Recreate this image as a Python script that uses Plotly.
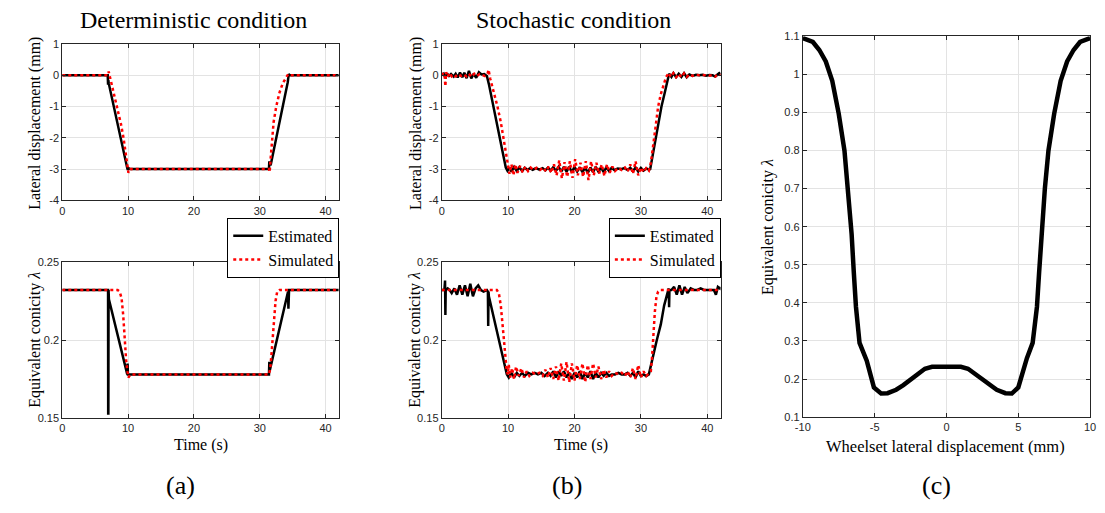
import plotly.graph_objects as go

W, H = 1105, 513

# ---------------- data ----------------
# (a) deterministic, lateral displacement
det_lat_est_t = [0, 6.9, 6.95, 7.0, 7.05, 9.87, 9.95, 10.05, 10.3, 31.4, 31.45, 31.55, 31.65, 34.25, 34.3, 34.4, 34.55, 42]
det_lat_est_y = [0, 0, -0.3, -0.15, -0.25, -2.97, -3.03, -2.97, -3.0, -3.0, -2.75, -2.85, -2.88, -0.22, -0.12, 0.04, 0, 0]
det_lat_sim_t = [0, 6.9, 7.05, 7.3, 7.8, 8.37, 8.9, 9.3, 9.65, 9.9, 10.05, 10.2, 10.4, 31.4, 31.5, 31.6, 31.84, 32.1, 32.5, 33.0, 33.5, 34.0, 34.3, 34.5, 42]
det_lat_sim_y = [0, 0, 0.12, -0.1, -0.55, -1.0, -1.55, -2.0, -2.5, -2.9, -3.12, -3.05, -3.0, -3.0, -3.1, -2.8, -2.0, -1.5, -1.0, -0.55, -0.25, -0.05, 0.03, 0, 0]

# (a) deterministic, equivalent conicity
det_con_est_t = [0, 6.95, 6.97, 7.0, 7.03, 7.08, 9.87, 9.92, 9.97, 10.1, 31.4, 31.45, 31.5, 31.6, 34.3, 34.35, 34.4, 34.45, 42]
det_con_est_y = [0.232, 0.232, 0.153, 0.153, 0.232, 0.226, 0.178, 0.185, 0.178, 0.178, 0.178, 0.186, 0.180, 0.182, 0.231, 0.220, 0.232, 0.232, 0.232]
det_con_sim_t = [0, 8.4, 8.7, 9.0, 9.25, 9.47, 9.7, 9.9, 10.05, 10.2, 10.4, 31.4, 31.6, 31.8, 32.0, 32.2, 32.4, 32.65, 33.0, 42]
det_con_sim_y = [0.232, 0.232, 0.231, 0.227, 0.216, 0.200, 0.187, 0.180, 0.176, 0.177, 0.178, 0.178, 0.182, 0.192, 0.203, 0.215, 0.225, 0.231, 0.232, 0.232]

# (b) stochastic, lateral displacement
sto_lat_est_t = [0, 0.3, 0.55, 0.8, 1.1, 1.4, 1.8, 2.1, 2.4, 2.75, 3.1, 3.4, 3.75, 4.1, 4.45, 4.8, 5.2, 5.6, 6.0, 6.4, 6.8, 7.0, 7.1,
                 9.65, 9.9, 10.2, 10.5, 10.9, 11.3, 11.7, 12.1, 12.5, 12.9, 13.3, 13.7, 14.2, 14.7, 15.2, 15.6, 16.0, 16.4, 16.8,
                 17.2, 17.6, 18.0, 18.4, 18.8, 19.2, 19.6, 20.0, 20.4, 20.8, 21.2, 21.6, 22.0, 22.4, 22.8, 23.2, 23.6, 24.0, 24.4,
                 24.8, 25.2, 25.6, 26.0, 26.5, 27.0, 27.5, 28.0, 28.4, 28.8, 29.2, 29.6, 30.0, 30.4, 30.8, 31.2, 31.4, 31.6, 32.0,
                 32.2, 32.6, 33.1, 33.6, 34.0, 34.25, 34.6, 34.9, 35.3, 35.7, 36.1, 36.5, 36.9, 37.3, 37.8, 38.3, 38.8, 39.3, 39.8,
                 40.3, 40.8, 41.2, 41.5, 41.8, 42]
sto_lat_est_y = [0.0, 0.05, -0.08, 0.06, -0.02, 0.04, -0.04, 0.05, -0.07, 0.09, -0.06, 0.08, -0.09, 0.14, -0.1, 0.05, -0.08, 0.1, 0.03, 0.04, -0.02, -0.15, -0.28,
                 -2.95, -3.05, -2.95, -3.08, -2.93, -3.06, -2.94, -3.06, -2.96, -3.03, -2.97, -3.02, -2.97, -3.02, -2.97, -3.04, -2.95, -3.05, -2.94,
                 -3.06, -2.93, -3.08, -2.93, -3.08, -2.93, -3.1, -2.93, -3.08, -2.94, -3.1, -2.95, -3.12, -2.95, -3.1, -2.93, -3.08, -2.95, -3.1,
                 -2.94, -3.06, -2.96, -3.03, -2.98, -3.0, -2.97, -3.03, -2.96, -3.07, -2.95, -3.08, -2.96, -3.05, -2.98, -3.02, -3.0, -2.75, -2.35,
                 -2.0, -1.5, -1.0, -0.55, -0.2, 0.05, -0.05, 0.07, -0.06, 0.05, -0.05, 0.07, -0.06, 0.03, -0.02, 0.02, 0.0, 0.02, -0.01,
                 0.01, 0.0, -0.04, 0.02, 0.07, 0.03]
sto_lat_sim_t = [0, 0.25, 0.45, 0.55, 0.65, 0.9, 1.2, 1.5, 1.8, 2.1, 2.5, 2.9, 3.3, 3.7, 4.1, 4.5, 4.9, 5.3, 5.7, 6.1, 6.5, 6.9, 7.05,
                 7.3, 7.8, 8.4, 8.9, 9.3, 9.7, 10.0, 10.2, 10.5, 10.8, 11.1, 11.4, 11.8, 12.2, 12.6, 13.0, 13.4, 13.8, 14.3, 14.8,
                 15.3, 15.7, 16.1, 16.5, 16.9, 17.3, 17.7, 18.1, 18.5, 18.9, 19.3, 19.7, 20.1, 20.5, 20.9, 21.3, 21.7, 22.1, 22.5,
                 22.9, 23.3, 23.7, 24.1, 24.5, 24.9, 25.3, 25.7, 26.1, 26.6, 27.1, 27.6, 28.0, 28.4, 28.8, 29.2, 29.6, 30.0, 30.4,
                 30.8, 31.2, 31.5, 31.8, 32.0, 32.3, 32.6, 33.0, 33.4, 33.8, 34.2, 34.5, 34.9, 35.3, 35.7, 36.1, 36.5, 36.9, 37.3,
                 37.8, 38.3, 38.8, 39.3, 39.8, 40.3, 40.8, 41.2, 41.5, 41.8, 42]
sto_lat_sim_y = [0.0, 0.08, -0.05, -0.35, 0.1, -0.05, 0.08, -0.03, 0.02, -0.03, 0.04, -0.02, 0.03, -0.03, 0.05, -0.05, 0.05, -0.02, 0.04, 0.0, -0.02, 0.05, 0.18,
                 -0.1, -0.5, -1.0, -1.5, -2.0, -2.6, -2.95, -3.15, -2.85, -3.2, -2.85, -3.12, -2.9, -3.1, -2.92, -3.06, -2.95, -3.03, -2.96, -3.03,
                 -2.95, -3.08, -2.92, -3.12, -2.85, -3.2, -2.72, -3.3, -2.78, -3.25, -2.75, -3.28, -2.68, -3.2, -2.8, -3.25, -2.75, -3.35, -2.75,
                 -3.2, -2.8, -3.15, -2.85, -3.22, -2.85, -3.12, -2.92, -3.06, -2.96, -3.03, -2.95, -3.08, -2.85, -3.15, -2.75, -3.2, -2.95, -3.1,
                 -2.97, -3.05, -2.8, -2.4, -2.0, -1.5, -1.0, -0.6, -0.3, -0.05, 0.08, -0.05, 0.07, -0.06, 0.05, -0.06, 0.06, -0.05, 0.03,
                 -0.02, 0.02, 0.0, 0.01, 0.0, 0.01, -0.01, -0.04, 0.02, 0.04, 0.0]

# (b) stochastic, equivalent conicity
sto_con_est_t = [0, 0.4, 0.5, 0.55, 0.6, 0.9, 1.2, 1.5, 1.9, 2.3, 2.7, 3.1, 3.5, 3.9, 4.3, 4.7, 5.1, 5.5, 5.9, 6.3, 6.8, 6.95, 7.0, 7.05, 7.1,
                 9.8, 10.1, 10.5, 10.9, 11.3, 11.7, 12.1, 12.5, 13.0, 13.5, 14.0, 14.5, 15.0, 15.5, 16.0, 16.4, 16.8, 17.2, 17.6, 18.0,
                 18.4, 18.8, 19.2, 19.6, 20.0, 20.4, 20.8, 21.2, 21.6, 22.0, 22.4, 22.8, 23.2, 23.6, 24.0, 24.4, 24.8, 25.2, 25.6, 26.1,
                 26.6, 27.1, 27.6, 28.0, 28.4, 28.8, 29.2, 29.6, 30.0, 30.4, 30.8, 31.2, 31.4, 32.0, 32.4, 33.0, 33.5, 34.0, 34.2,
                 34.25, 34.3, 34.6, 35.0, 35.4, 35.8, 36.2, 36.6, 37.0, 37.5, 38.0, 38.5, 39.0, 39.5, 40.0, 40.5, 41.0, 41.3, 41.6, 41.9, 42]
sto_con_est_y = [0.232, 0.232, 0.238, 0.216, 0.232, 0.233, 0.232, 0.230, 0.233, 0.229, 0.235, 0.229, 0.235, 0.228, 0.236, 0.228, 0.233, 0.235, 0.232, 0.231, 0.232, 0.231, 0.209, 0.231, 0.228,
                 0.178, 0.176, 0.179, 0.176, 0.179, 0.177, 0.179, 0.177, 0.179, 0.178, 0.179, 0.178, 0.179, 0.177, 0.179, 0.177, 0.180, 0.176, 0.180, 0.177,
                 0.180, 0.176, 0.179, 0.175, 0.179, 0.176, 0.180, 0.175, 0.179, 0.176, 0.180, 0.175, 0.179, 0.176, 0.179, 0.177, 0.179, 0.177, 0.178, 0.178,
                 0.179, 0.178, 0.178, 0.179, 0.177, 0.179, 0.176, 0.180, 0.177, 0.178, 0.177, 0.178, 0.182, 0.192, 0.200, 0.210, 0.222, 0.230, 0.233,
                 0.221, 0.232, 0.232, 0.234, 0.229, 0.235, 0.229, 0.234, 0.230, 0.233, 0.232, 0.232, 0.233, 0.232, 0.232, 0.232, 0.232, 0.229, 0.234, 0.233, 0.234]
sto_con_sim_t = [0, 8.3, 8.6, 8.9, 9.2, 9.5, 9.75, 9.95, 10.1, 10.3, 10.6, 10.9, 11.2, 11.6, 12.0, 12.4, 12.8, 13.2, 13.7, 14.2, 14.7, 15.2,
                 15.6, 16.0, 16.4, 16.8, 17.2, 17.6, 18.0, 18.4, 18.8, 19.2, 19.6, 20.0, 20.4, 20.8, 21.2, 21.6, 22.0, 22.4, 22.8, 23.2,
                 23.6, 24.0, 24.4, 24.8, 25.2, 25.6, 26.1, 26.6, 27.1, 27.6, 28.0, 28.4, 28.8, 29.2, 29.6, 30.0, 30.4, 30.8, 31.2, 31.5,
                 31.7, 31.9, 32.1, 32.35, 32.6, 32.9, 42]
sto_con_sim_y = [0.232, 0.232, 0.230, 0.222, 0.208, 0.192, 0.182, 0.178, 0.184, 0.176, 0.182, 0.175, 0.183, 0.177, 0.182, 0.176, 0.180, 0.177, 0.179, 0.178, 0.179, 0.177,
                 0.181, 0.176, 0.182, 0.175, 0.183, 0.174, 0.185, 0.174, 0.186, 0.173, 0.185, 0.174, 0.184, 0.175, 0.185, 0.173, 0.184, 0.175, 0.185, 0.176,
                 0.183, 0.175, 0.181, 0.176, 0.180, 0.177, 0.179, 0.178, 0.179, 0.177, 0.180, 0.176, 0.182, 0.175, 0.184, 0.176, 0.180, 0.177, 0.179, 0.180,
                 0.190, 0.205, 0.218, 0.228, 0.231, 0.232, 0.232]

# (c) equivalent conicity vs wheelset lateral displacement
wl_disp = [-10, -9.3, -8.85, -8.4, -7.95, -7.5, -7.1, -6.85, -6.6, -6.45, -6.3, -6.05, -5.55, -5.05, -4.55, -4.1, -3.5, -3.0, -2.5,
           -2.0, -1.5, -1.0, -0.5, 0, 0.5, 1.0, 1.5, 2.0, 2.5, 3.0, 3.5, 4.1, 4.55, 5.0, 5.3, 5.6, 6.0, 6.3, 6.45, 6.6, 6.85,
           7.1, 7.5, 7.95, 8.4, 8.85, 9.3, 10]
wl_conicity = [1.095, 1.085, 1.064, 1.034, 0.983, 0.897, 0.80, 0.70, 0.58, 0.48, 0.39, 0.295, 0.248, 0.178, 0.162, 0.163, 0.172, 0.184, 0.198,
               0.213, 0.227, 0.232, 0.232, 0.232, 0.232, 0.232, 0.227, 0.213, 0.198, 0.184, 0.172, 0.163, 0.162, 0.178, 0.22, 0.255, 0.295, 0.39, 0.48, 0.58, 0.70,
               0.80, 0.897, 0.983, 1.034, 1.064, 1.085, 1.095]

titles = ["Deterministic condition", "Stochastic condition"]
panel_labels = ["(a)", "(b)", "(c)"]
legend_names = ["Estimated", "Simulated"]
time_ticks = [0, 10, 20, 30, 40]
lat_ticks = [-4, -3, -2, -1, 0, 1]
con_ticks = [0.15, 0.2, 0.25]
disp_ticks = [-10, -5, 0, 5, 10]
curve_ticks = [0.1, 0.2, 0.3, 0.4, 0.5, 0.6, 0.7, 0.8, 0.9, 1.0, 1.1]

# ---------------- layout helpers (page pixel -> paper fraction) ----------------
def px(x):
    return x / W

def py(y):
    return 1 - y / H

SERIF = "Liberation Serif"
SANS = "Liberation Sans"
AX = "#262626"

def fmt(v):
    return ("%.2f" % v).rstrip("0").rstrip(".")

fig = go.Figure()

def add(x, y, xa, ya, color, dash, width, name=None, legend=None):
    fig.add_trace(go.Scatter(
        x=x, y=y, xaxis=xa, yaxis=ya, mode="lines",
        line=dict(color=color, dash=dash, width=width),
        name=name, showlegend=legend is not None,
        legend=legend if legend else "legend",
    ))

add(det_lat_est_t, det_lat_est_y, "x", "y", "black", "solid", 2.5)
add(det_lat_sim_t, det_lat_sim_y, "x", "y", "#ff0000", "dot", 2.5)
add(det_con_est_t, det_con_est_y, "x2", "y2", "black", "solid", 2.5, legend_names[0], "legend")
add(det_con_sim_t, det_con_sim_y, "x2", "y2", "#ff0000", "dot", 2.5, legend_names[1], "legend")
add(sto_lat_est_t, sto_lat_est_y, "x3", "y3", "black", "solid", 2.5)
add(sto_lat_sim_t, sto_lat_sim_y, "x3", "y3", "#ff0000", "dot", 2.5)
add(sto_con_est_t, sto_con_est_y, "x4", "y4", "black", "solid", 2.5, legend_names[0], "legend2")
add(sto_con_sim_t, sto_con_sim_y, "x4", "y4", "#ff0000", "dot", 2.5, legend_names[1], "legend2")
add(wl_disp, wl_conicity, "x5", "y5", "black", "solid", 4.5)

def axis(domain, rng, ticks, anchor):
    return dict(
        domain=domain, range=rng, anchor=anchor,
        tickmode="array", tickvals=ticks, ticktext=[fmt(v) for v in ticks],
        showline=True, linecolor=AX, linewidth=1, mirror="ticks",
        ticks="inside", ticklen=4, tickcolor=AX, tickwidth=1,
        showgrid=True, gridcolor="#e3e3e3", gridwidth=1, zeroline=False,
        tickfont=dict(family=SANS, size=11, color=AX), fixedrange=True,
    )

xl = [px(55), px(335)]
xm = [px(439.3), px(721.7)]
xr = [px(805), px(1096)]
ytop = [py(199), py(39)]
ybot = [py(422), py(262)]
yr = [py(421), py(31)]

layout = dict(
    width=W, height=H, margin=dict(l=0, r=0, t=0, b=0),
    paper_bgcolor="white", plot_bgcolor="white",
    xaxis=axis(xl, [0, 42], time_ticks, "y"),
    yaxis=axis(ytop, [-4, 1], lat_ticks, "x"),
    xaxis2=axis(xl, [0, 42], time_ticks, "y2"),
    yaxis2=axis(ybot, [0.15, 0.25], con_ticks, "x2"),
    xaxis3=axis(xm, [0, 42], time_ticks, "y3"),
    yaxis3=axis(ytop, [-4, 1], lat_ticks, "x3"),
    xaxis4=axis(xm, [0, 42], time_ticks, "y4"),
    yaxis4=axis(ybot, [0.15, 0.25], con_ticks, "x4"),
    xaxis5=axis(xr, [-10, 10], disp_ticks, "y5"),
    yaxis5=axis(yr, [0.1, 1.1], curve_ticks, "x5"),
)

leg = dict(
    xanchor="right", yanchor="top", y=py(217),
    bgcolor="white", bordercolor="black", borderwidth=1,
    font=dict(family=SERIF, size=16, color="black"),
    itemwidth=30, tracegroupgap=0,
)
layout["legend"] = dict(leg, x=px(335.5))
layout["legend2"] = dict(leg, x=px(722))
fig.update_layout(**layout)

ann = []
def text(x, y, s, size, angle=0):
    ann.append(dict(x=px(x), y=py(y), xref="paper", yref="paper", text=s, showarrow=False,
                    textangle=angle, xanchor="center", yanchor="middle",
                    font=dict(family=SERIF, size=size, color="black")))

text(188, 14, titles[0], 24)
text(573, 14, titles[1], 24)
text(28, 120, "Lateral displacement (mm)", 16, -90)
text(413, 120, "Lateral displacement (mm)", 16, -90)
text(27, 342, "Equivalent conicity <i>λ</i>", 16, -90)
text(412, 342, "Equivalent conicity <i>λ</i>", 16, -90)
text(769, 226, "Equivalent conicity <i>λ</i>", 16, -90)
text(195, 450, "Time (s)", 16)
text(580, 450, "Time (s)", 16)
text(950, 451, "Wheelset lateral displacement (mm)", 16.5)
text(175, 491, panel_labels[0], 26)
text(566, 491, panel_labels[1], 26)
text(940, 491, panel_labels[2], 26)
fig.update_layout(annotations=ann)

fig.write_html(
    "out.html",
    config={"displayModeBar": False, "staticPlot": True},
    post_script=("document.documentElement.style.margin='0';document.body.style.margin='0';"
                 "document.documentElement.style.overflow='hidden';document.body.style.overflow='hidden';"),
)
